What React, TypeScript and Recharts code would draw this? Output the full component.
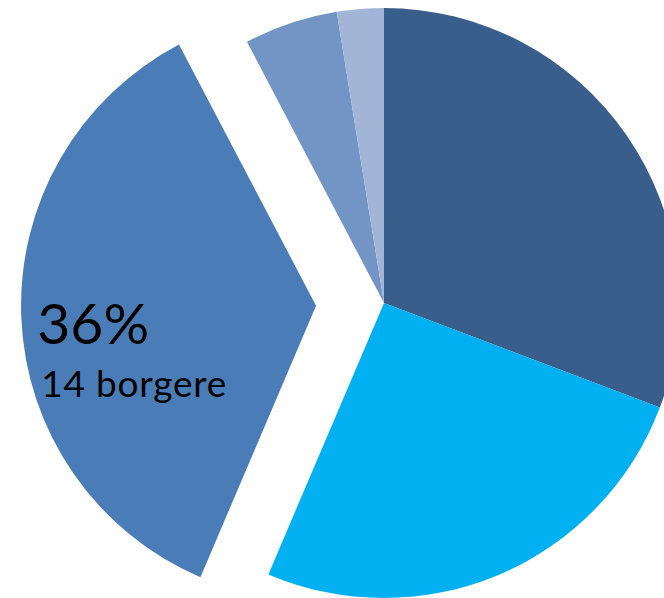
import { PieChart, Pie, Cell, Sector } from 'recharts';

// slices clockwise from 12 o'clock
const categories = ['Gruppe 1', 'Gruppe 2', 'Gruppe 3', 'Gruppe 4', 'Gruppe 5'];
const borgere = [12, 10, 14, 2, 1];
const exploded = [false, false, true, false, false];
const colors = ['#3A5E8C', '#00B0F0', '#4A7DB7', '#7295C6', '#A3B5D6'];

const EXPLODE = 68;
const RAD = Math.PI / 180;

const data = categories.map((name, i) => ({ name, value: borgere[i], explode: exploded[i] }));

// eslint-disable-next-line @typescript-eslint/no-explicit-any
const SliceShape = (props: any) => {
  const { cx, cy, midAngle, payload } = props;
  if (!payload?.explode) return <Sector {...props} />;
  const dx = Math.cos(midAngle * RAD) * EXPLODE;
  const dy = -Math.sin(midAngle * RAD) * EXPLODE;
  return <Sector {...props} cx={cx + dx} cy={cy + dy} />;
};

// eslint-disable-next-line @typescript-eslint/no-explicit-any
const SliceLabel = (props: any) => {
  const { cx, cy, midAngle, outerRadius, percent, value, payload } = props;
  if (!payload?.explode) return null;
  const ex = cx + Math.cos(midAngle * RAD) * EXPLODE;
  const ey = cy - Math.sin(midAngle * RAD) * EXPLODE;
  const x = ex - outerRadius * 0.945;
  return (
    <text x={x} y={ey + 38} fill="#000" style={{ fontFamily: 'Lato, sans-serif' }}>
      <tspan x={x} fontSize={57}>{`${Math.round(percent * 100)}%`}</tspan>
      <tspan x={x + 4} dy={53} fontSize={37} letterSpacing={0.8}>{`${value} borgere`}</tspan>
    </text>
  );
};

export default function App() {
  return (
    <div style={{ position: 'absolute', left: 0, top: 0, width: 664, height: 598, background: '#fff' }}>
      <PieChart width={664} height={598} margin={{ top: 0, right: 0, bottom: 0, left: 0 }}>
        <Pie
          data={data}
          dataKey="value"
          cx={384}
          cy={303}
          outerRadius={295}
          startAngle={90}
          endAngle={-270}
          stroke="none"
          shape={SliceShape}
          label={SliceLabel}
          labelLine={false}
          isAnimationActive={false}
        >
          {data.map((d, i) => <Cell key={d.name} fill={colors[i]} />)}
        </Pie>
      </PieChart>
    </div>
  );
}
